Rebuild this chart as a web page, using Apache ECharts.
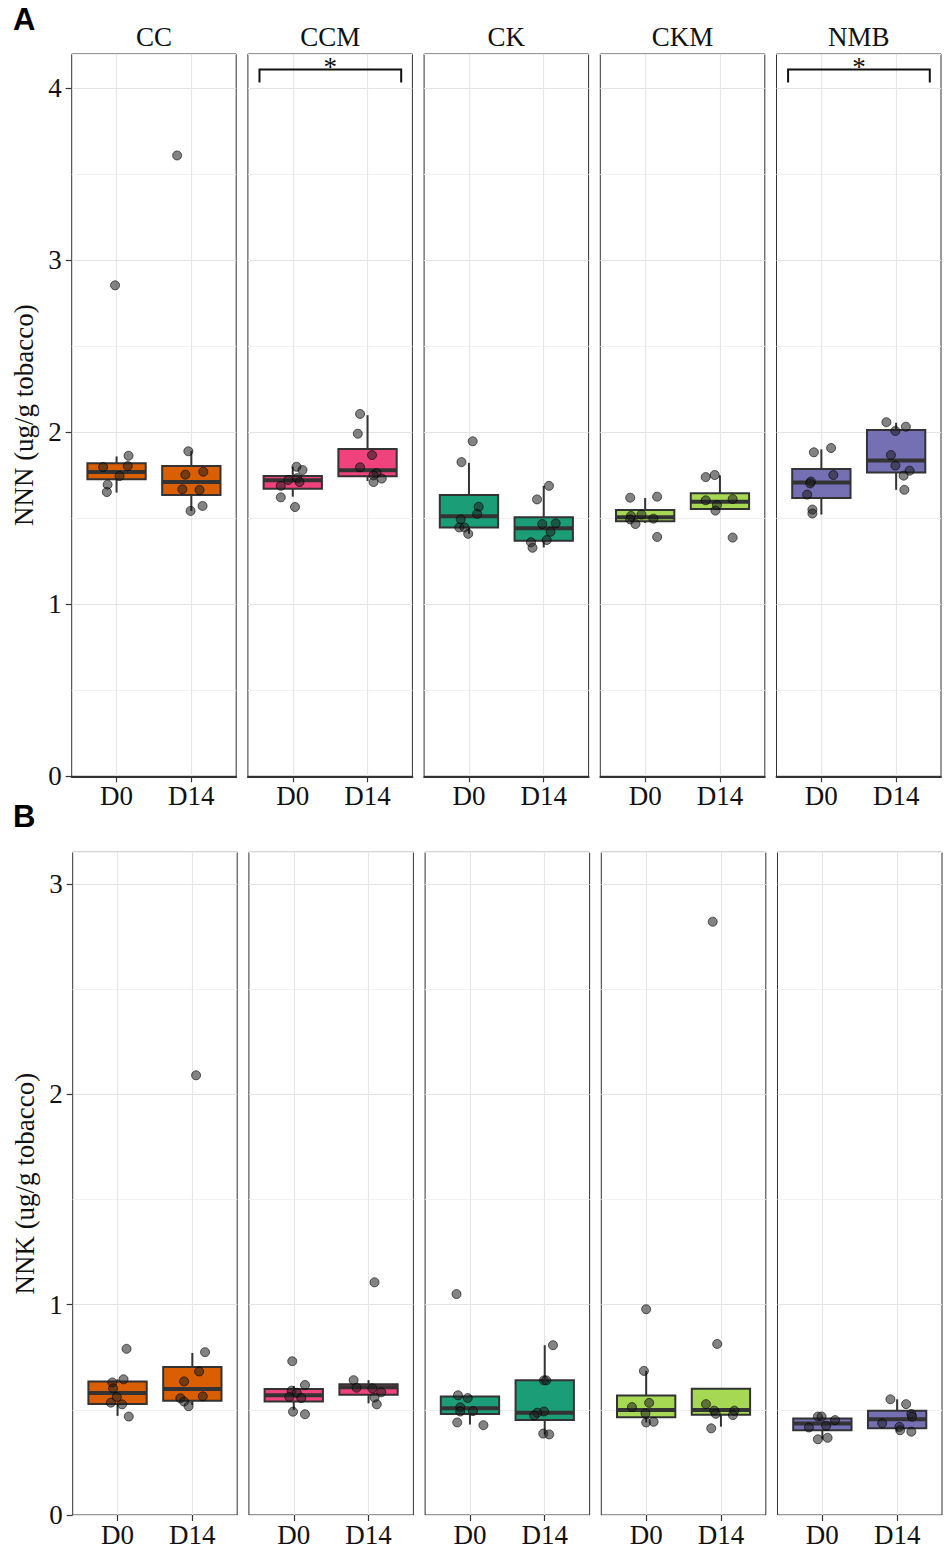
<!DOCTYPE html>
<html>
<head>
<meta charset="utf-8">
<title>NNN / NNK</title>
<script src="https://cdn.jsdelivr.net/npm/echarts@6/dist/echarts.min.js"></script>
<style>
  html, body { margin: 0; padding: 0; background: #fff; }
  #chart { width: 950px; height: 1548px; }
</style>
</head>
<body>
<div id="chart"></div>
<script>
const groups = ['CC', 'CCM', 'CK', 'CKM', 'NMB'];
const days = ['D0', 'D14'];
const groupColors = ['#D95F02', '#F0427C', '#1B9E77', '#A6D854', '#7570B3'];

// box stats per group: [lower whisker, Q1, median, Q3, upper whisker]
const nnnBoxD0 = [
  [1.65, 1.727, 1.769, 1.82, 1.86],
  [1.626, 1.672, 1.721, 1.746, 1.80],
  [1.410, 1.447, 1.512, 1.636, 1.823],
  [1.473, 1.483, 1.506, 1.548, 1.618],
  [1.522, 1.618, 1.709, 1.787, 1.901]
];
const nnnBoxD14 = [
  [1.543, 1.636, 1.711, 1.804, 1.891],
  [1.717, 1.744, 1.779, 1.903, 2.10],
  [1.331, 1.370, 1.443, 1.506, 1.689],
  [1.555, 1.555, 1.597, 1.646, 1.750],
  [1.666, 1.767, 1.837, 2.013, 2.056]
];
const nnkBoxD0 = [
  [0.471, 0.528, 0.580, 0.634, 0.645],
  [0.499, 0.539, 0.569, 0.599, 0.613],
  [0.430, 0.480, 0.507, 0.563, 0.569],
  [0.440, 0.465, 0.499, 0.568, 0.685],
  [0.360, 0.403, 0.435, 0.459, 0.468]
];
const nnkBoxD14 = [
  [0.523, 0.543, 0.599, 0.703, 0.770],
  [0.531, 0.572, 0.607, 0.621, 0.641],
  [0.383, 0.452, 0.486, 0.640, 0.807],
  [0.420, 0.476, 0.499, 0.600, 0.600],
  [0.396, 0.412, 0.455, 0.496, 0.550]
];

// jittered points per group: [horizontal jitter, value]
const nnnPtsD0 = [
  [[0.16, 1.864], [-0.18, 1.798], [0.15, 1.804], [0.04, 1.746], [-0.12, 1.696], [-0.13, 1.653], [-0.02, 2.855]],
  [[0.05, 1.800], [0.13, 1.781], [-0.06, 1.723], [0.06, 1.734], [0.09, 1.711], [-0.16, 1.689], [-0.16, 1.622], [0.03, 1.566]],
  [[0.05, 1.948], [-0.10, 1.827], [0.13, 1.567], [0.11, 1.526], [-0.11, 1.494], [-0.13, 1.447], [-0.06, 1.447], [-0.01, 1.410]],
  [[-0.20, 1.620], [0.16, 1.626], [-0.19, 1.514], [-0.05, 1.522], [0.11, 1.498], [-0.20, 1.494], [-0.13, 1.467], [0.16, 1.392]],
  [[-0.10, 1.884], [0.13, 1.909], [0.16, 1.752], [-0.14, 1.714], [-0.15, 1.703], [-0.19, 1.638], [-0.12, 1.551], [-0.12, 1.528]]
];
const nnnPtsD14 = [
  [[-0.04, 1.890], [-0.08, 1.754], [0.16, 1.771], [-0.12, 1.669], [0.11, 1.665], [-0.01, 1.543], [0.15, 1.572], [-0.19, 3.61]],
  [[-0.10, 2.107], [-0.13, 1.992], [0.06, 1.868], [-0.10, 1.797], [0.12, 1.764], [0.08, 1.750], [0.19, 1.731], [0.08, 1.711]],
  [[0.07, 1.689], [-0.09, 1.610], [-0.02, 1.467], [0.16, 1.471], [0.09, 1.422], [0.04, 1.374], [-0.17, 1.361], [-0.15, 1.329]],
  [[-0.19, 1.740], [-0.07, 1.752], [-0.19, 1.605], [0.17, 1.612], [-0.04, 1.577], [-0.06, 1.545], [0.17, 1.388]],
  [[-0.13, 2.059], [0.13, 2.033], [-0.01, 2.008], [-0.07, 1.868], [-0.01, 1.807], [0.18, 1.777], [0.10, 1.748], [0.11, 1.666]]
];
const nnkPtsD0 = [
  [[0.12, 0.790], [0.08, 0.645], [-0.07, 0.630], [-0.06, 0.602], [-0.01, 0.561], [-0.09, 0.534], [0.06, 0.526], [0.15, 0.468]],
  [[-0.02, 0.731], [0.15, 0.618], [-0.03, 0.591], [0.04, 0.581], [-0.06, 0.561], [0.10, 0.556], [-0.01, 0.491], [0.15, 0.479]],
  [[-0.18, 1.050], [-0.16, 0.569], [-0.03, 0.556], [-0.13, 0.512], [-0.13, 0.492], [0.04, 0.494], [-0.17, 0.440], [0.18, 0.427]],
  [[0.00, 0.978], [-0.03, 0.685], [0.04, 0.533], [-0.19, 0.513], [-0.01, 0.483], [0.00, 0.440], [0.10, 0.443]],
  [[-0.06, 0.468], [-0.01, 0.468], [0.17, 0.451], [0.05, 0.424], [-0.18, 0.416], [-0.06, 0.360], [0.07, 0.367]]
];
const nnkPtsD14 = [
  [[0.17, 0.774], [0.09, 0.682], [-0.11, 0.635], [0.14, 0.564], [-0.16, 0.555], [-0.11, 0.539], [-0.05, 0.517], [0.05, 2.09]],
  [[-0.20, 0.641], [-0.16, 0.605], [0.05, 0.602], [0.17, 0.583], [0.08, 0.558], [0.11, 0.526], [0.08, 1.106]],
  [[0.11, 0.807], [-0.01, 0.640], [0.02, 0.640], [-0.01, 0.492], [-0.10, 0.486], [-0.14, 0.473], [-0.02, 0.387], [0.06, 0.383]],
  [[-0.05, 0.813], [-0.20, 0.527], [-0.09, 0.496], [-0.07, 0.481], [0.18, 0.496], [0.16, 0.475], [-0.13, 0.412], [-0.11, 2.82]],
  [[-0.09, 0.550], [0.12, 0.527], [0.19, 0.480], [0.20, 0.467], [-0.20, 0.436], [0.03, 0.419], [0.04, 0.403], [0.19, 0.396]]
];

const nnnTicks = [0, 1, 2, 3, 4];
const nnkTicks = [0, 1, 2, 3];

// significance brackets (D0 vs D14) in panel A
const sigGroups = ['CCM', 'NMB'];
const sigLabel = '*';
const bracketX = [0.555, 2.45];
const bracketY = 4.11;
const bracketTip = 4.035;

const SERIF = "'Liberation Serif', 'Times New Roman', serif";
const SANS = "'Liberation Sans', Arial, sans-serif";
const PANEL_W = 164.5;
const PANEL_STEP = 176.2;
const BOX_HALF = 0.39;

const panels = [
  { letter: 'A', letterY: 4, top: 54, height: 722.3, left: 71.7, ymax: 4.2, ticks: nnnTicks,
    title: 'NNN (ug/g tobacco)', box: [nnnBoxD0, nnnBoxD14], pts: [nnnPtsD0, nnnPtsD14], strip: true, sig: true },
  { letter: 'B', letterY: 801, top: 852.3, height: 664.7, left: 72.7, ymax: 3.15, ticks: nnkTicks,
    title: 'NNK (ug/g tobacco)', box: [nnkBoxD0, nnkBoxD14], pts: [nnkPtsD0, nnkPtsD14], strip: false, sig: false }
];

function renderBox(params, api) {
  const x = api.value(0);
  const lo = api.coord([x, api.value(1)]);
  const q1 = api.coord([x, api.value(2)]);
  const md = api.coord([x, api.value(3)]);
  const q3 = api.coord([x, api.value(4)]);
  const hi = api.coord([x, api.value(5)]);
  const left = api.coord([x - BOX_HALF, api.value(3)])[0];
  const right = api.coord([x + BOX_HALF, api.value(3)])[0];
  const dark = '#333333';
  return {
    type: 'group',
    children: [
      { type: 'line', shape: { x1: lo[0], y1: lo[1], x2: q1[0], y2: q1[1] }, style: { stroke: dark, lineWidth: 2 } },
      { type: 'line', shape: { x1: q3[0], y1: q3[1], x2: hi[0], y2: hi[1] }, style: { stroke: dark, lineWidth: 2 } },
      { type: 'rect', shape: { x: left, y: q3[1], width: right - left, height: q1[1] - q3[1] },
        style: { fill: api.visual('color'), stroke: dark, lineWidth: 2 } },
      { type: 'line', shape: { x1: left, y1: md[1], x2: right, y2: md[1] }, style: { stroke: dark, lineWidth: 4 } }
    ]
  };
}

function renderBracket(params, api) {
  const a = api.coord([api.value(0), api.value(3)]);
  const b = api.coord([api.value(0), api.value(2)]);
  const c = api.coord([api.value(1), api.value(2)]);
  const d = api.coord([api.value(1), api.value(3)]);
  return {
    type: 'group',
    children: [
      { type: 'polyline', shape: { points: [a, b, c, d] }, style: { stroke: '#111', lineWidth: 2, fill: 'none' } },
      { type: 'text', style: { text: sigLabel, x: (b[0] + c[0]) / 2, y: b[1] - 2, align: 'center', verticalAlign: 'middle',
        fontSize: 27, fontFamily: SERIF, fill: '#111' } }
    ]
  };
}

const grid = [], xAxis = [], yAxis = [], series = [], graphic = [];

panels.forEach((p, pi) => {
  graphic.push({ type: 'text', x: 13, y: p.letterY,
    style: { text: p.letter, fontSize: 31, fontWeight: 'bold', fontFamily: SANS, fill: '#000', verticalAlign: 'top' } });

  groups.forEach((g, gi) => {
    const gIdx = grid.length;
    const left = p.left + gi * PANEL_STEP;
    grid.push({ left: left, top: p.top, width: PANEL_W, height: p.height, containLabel: false,
      show: true, borderColor: '#333', borderWidth: 1, backgroundColor: '#fff' });

    xAxis.push({ gridIndex: gIdx, type: 'value', min: 0.4, max: 2.6,
      axisLine: { show: pi === 0, onZero: false, lineStyle: { color: '#333', width: 2 } },
      axisTick: { show: true, customValues: [1, 2], length: 6, lineStyle: { color: '#333', width: 1.2 } },
      axisLabel: { customValues: [1, 2], formatter: v => days[Math.round(v) - 1], fontFamily: SERIF, fontSize: 27,
        color: '#111', margin: 6 },
      splitLine: { show: true, lineStyle: { color: '#E6E6E6', width: 1.2 } } });

    const mainY = yAxis.length;
    yAxis.push({ gridIndex: gIdx, type: 'value', position: 'left', min: 0, max: p.ymax, interval: 0.5,
      axisLine: { show: false }, axisTick: { show: false }, axisLabel: { show: false },
      splitLine: { show: true, lineStyle: { color: ['#E4E4E4', '#F1F1F1'], width: 1.2 } } });

    if (gi === 0) {
      yAxis.push({ gridIndex: gIdx, type: 'value', position: 'left', min: 0, max: p.ymax, interval: 1,
        name: p.title, nameLocation: 'middle', nameGap: 34,
        nameTextStyle: { fontFamily: SERIF, fontSize: 27, color: '#111' },
        axisLine: { show: false },
        axisTick: { show: true, customValues: p.ticks, length: 6, lineStyle: { color: '#333', width: 1.2 } },
        axisLabel: { customValues: p.ticks, fontFamily: SERIF, fontSize: 27, color: '#111', margin: 10 },
        splitLine: { show: false } });
    }

    series.push({ type: 'custom', xAxisIndex: gIdx, yAxisIndex: mainY, renderItem: renderBox, z: 2, silent: true,
      itemStyle: { color: groupColors[gi] },
      data: [0, 1].map(d => [d + 1].concat(p.box[d][gi])) });

    series.push({ type: 'scatter', xAxisIndex: gIdx, yAxisIndex: mainY, z: 3, silent: true,
      symbolSize: 9,
      itemStyle: { color: 'rgba(30,30,30,0.55)', borderColor: 'rgba(0,0,0,0.6)', borderWidth: 1, opacity: 1 },
      data: [0, 1].flatMap(d => p.pts[d][gi].map(pt => [d + 1 + pt[0], pt[1]])) });

    if (p.sig && sigGroups.includes(g)) {
      series.push({ type: 'custom', xAxisIndex: gIdx, yAxisIndex: mainY, renderItem: renderBracket, z: 4, silent: true,
        data: [[bracketX[0], bracketX[1], bracketY, bracketTip]] });
    }

    if (p.strip) {
      graphic.push({ type: 'text', x: left + PANEL_W / 2, y: 36.5,
        style: { text: g, fontSize: 27, fontFamily: SERIF, fill: '#111', align: 'center', verticalAlign: 'middle' } });
    }
  });
});

const chart = echarts.init(document.getElementById('chart'), null, { renderer: 'svg' });
chart.setOption({
  animation: false,
  backgroundColor: '#fff',
  grid: grid,
  xAxis: xAxis,
  yAxis: yAxis,
  series: series,
  graphic: graphic
});
</script>
</body>
</html>
